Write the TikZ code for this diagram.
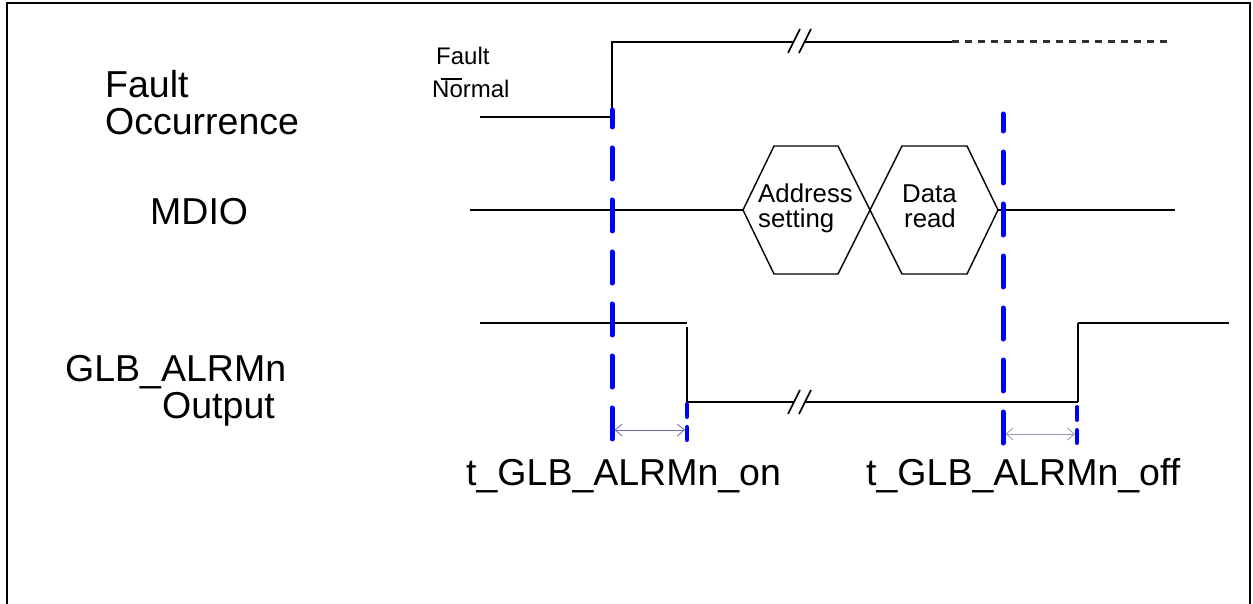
\documentclass[tikz,border=0pt]{standalone}
\usepackage{fontspec}
\setmainfont{Liberation Sans}
\usetikzlibrary{arrows.meta}
\definecolor{arrowon}{RGB}{105,105,170}
\definecolor{arrowoff}{RGB}{150,150,185}
\definecolor{dashgray}{RGB}{50,50,50}
\begin{document}
\begin{tikzpicture}[x=1pt,y=-1pt,
  sig/.style={line width=1.9pt, black},
  hexline/.style={line width=1.4pt, black, line join=miter},
  guide/.style={blue, line width=5pt, line cap=round, dash pattern=on 31pt off 21pt},
  shortguide/.style={blue, line width=4pt, line cap=round, dash pattern=on 13pt off 10pt},
  meas/.style={line width=0.8pt, {Straight Barb[length=7pt,width=12pt]}-{Straight Barb[length=7pt,width=12pt]}},
  big/.style={font=\fontsize{37.5}{38}\selectfont, inner sep=0pt, anchor=base west},
  small/.style={font=\fontsize{24}{25}\selectfont, inner sep=0pt, anchor=base west},
  hexlabel/.style={font=\fontsize{25.8}{26}\selectfont, inner sep=0pt, anchor=base west},
  breakmark/.style={line width=1.6pt, black}
]
\useasboundingbox (0,0) rectangle (1253,604);
% frame
\draw[line width=2pt] (7,604) -- (7,3) -- (1250,3) -- (1250,604);

% left labels
\node[big] (fault) at (105,98) {Fault};
\node[big] (occ) at (105,135) {Occurrence};
\node[big] (mdio) at (150,225) {MDIO};
\node[big] (glb) at (65,381) {GLB\_ALRMn};
\node[big] (out) at (162,418) {Output};

% small level labels
\node[small] (lvlf) at (436,65) {Fault};
\node[small] (lvln) at (432,98) {\rlap{\hspace{0.38em}\rule[0.76em]{0.88em}{1.3pt}}Normal};

% fault occurrence signal
\coordinate (f0) at (480,117);
\coordinate (f1) at (612,117);
\coordinate (f2) at (612,42);
\coordinate (f3) at (952,42);
\coordinate (f4) at (1173,42);
\draw[sig] (f0) -- (f1) -- (f2) -- (f3);
\draw[line width=3pt, dashgray, dash pattern=on 7pt off 6pt] (f3) -- (f4);
% break mark top
\fill[white] (788,53) -- (800,29) -- (811,29) -- (799,53) -- cycle;
\draw[breakmark] (788,53) -- (800,29);
\draw[breakmark] (799,53) -- (811,29);

% MDIO signal
\coordinate (m0) at (470,210);
\coordinate (m1) at (743,210);
\coordinate (m2) at (998,210);
\coordinate (m3) at (1175,210);
\draw[sig] (m0) -- (m1);
\draw[sig] (m2) -- (m3);
\draw[hexline] (m1) -- (774,146) -- (838,146) -- (902,274) -- (967,274) -- (m2)
  -- (967,146) -- (902,146) -- (838,274) -- (774,274) -- cycle;
\node[hexlabel] (addr) at (758,203) {Address};
\node[hexlabel] (sett) at (758,228) {setting};
\node[hexlabel] (data) at (902,203) {Data};
\node[hexlabel] (read) at (904,228) {read};

% GLB_ALRMn signal
\coordinate (g0) at (480,323);
\coordinate (g1) at (687,323);
\coordinate (g2) at (687,402);
\coordinate (g3) at (1078,402);
\coordinate (g4) at (1078,323);
\coordinate (g5) at (1229,323);
\draw[sig] (g0) -- (g1);
\draw[sig, line width=1.5pt] (687,327) -- (g2);
\draw[sig] (g2) -- (g3);
\draw[sig, line width=1.5pt] (g3) -- (g4);
\draw[sig] (g4) -- (g5);
% break mark bottom
\fill[white] (788,414) -- (800,390) -- (811,390) -- (799,414) -- cycle;
\draw[breakmark] (788,414) -- (800,390);
\draw[breakmark] (799,414) -- (811,390);

% blue guide lines
\coordinate (b1bot) at (612,439);
\coordinate (b1top) at (612,110);
\coordinate (b2bot) at (1003,443);
\coordinate (b2top) at (1003,114);
\draw[guide] (b1bot) -- (b1top);
\draw[guide] (b2bot) -- (b2top);
\coordinate (s1bot) at (687,440);
\coordinate (s1top) at (687,403);
\coordinate (s2bot) at (1077,443);
\coordinate (s2top) at (1077,405);
\draw[shortguide] (s1bot) -- (s1top);
\draw[shortguide] (s2bot) -- (s2top);

% measurement arrows
\coordinate (aon1) at (614.5,430);
\coordinate (aon2) at (685,430);
\coordinate (aoff1) at (1005.5,434);
\coordinate (aoff2) at (1075,434);
\draw[meas, arrowon] (aon1) -- (aon2);
\draw[meas, arrowoff] (aoff1) -- (aoff2);

% timing labels
\node[big] (ton) at (466,485) {t\_GLB\_ALRMn\_on};
\node[big] (toff) at (866,485) {t\_GLB\_ALRMn\_off};
\end{tikzpicture}
\end{document}
